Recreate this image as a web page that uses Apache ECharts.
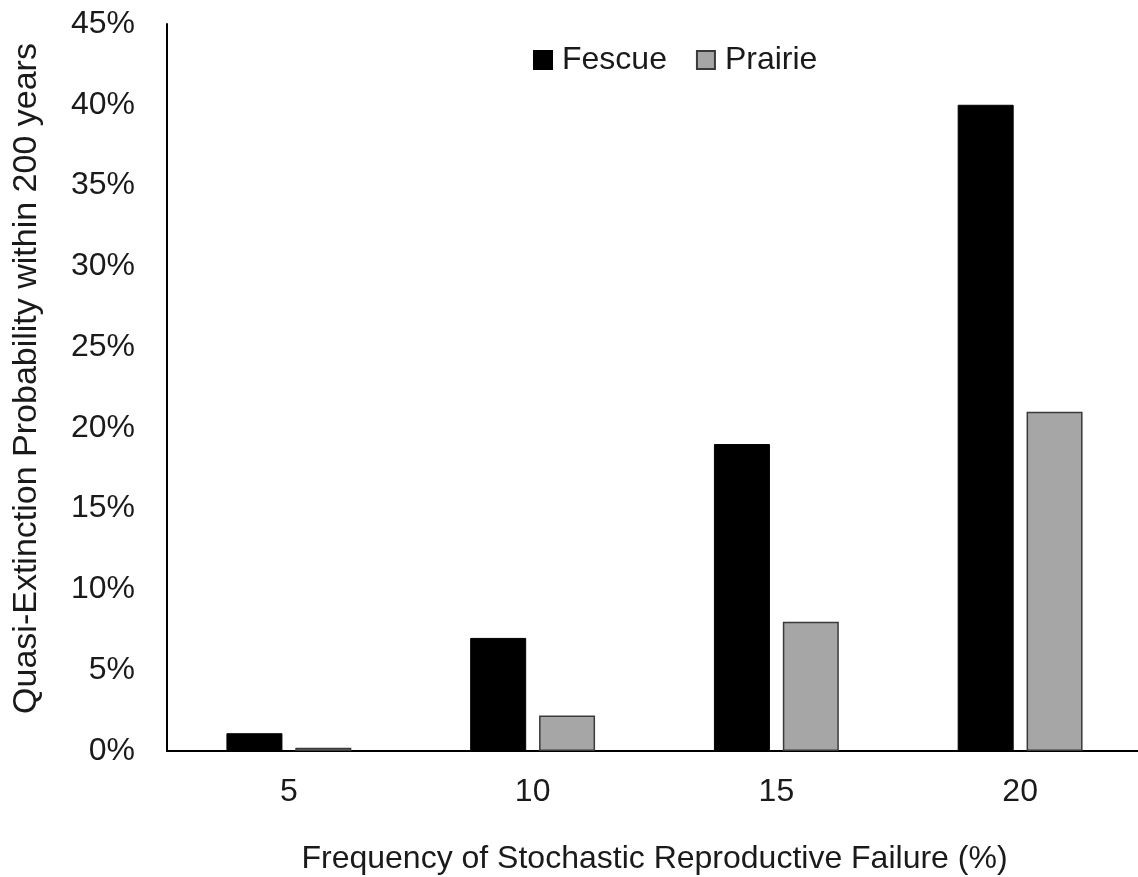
<!DOCTYPE html>
<html>
<head>
<meta charset="utf-8">
<script src="https://cdn.jsdelivr.net/npm/echarts@6/dist/echarts.min.js"></script>
<style>
  html, body { margin: 0; padding: 0; background: #fff; }
  #chart { width: 1138px; height: 877px; }
</style>
</head>
<body>
<div id="chart"></div>
<script>
// Failure frequency (%) on the x axis
const categories = ['5', '10', '15', '20'];
// Quasi-extinction probability within 200 years (%)
const fescue = [1.1, 7.0, 19.0, 40.0];
const prairie = [0.2, 2.2, 8.0, 21.0];
const seriesNames = ['Fescue', 'Prairie'];

const textColor = '#1a1a1a';
const fontFamily = 'Liberation Sans, Arial, sans-serif';

const chart = echarts.init(document.getElementById('chart'));
chart.setOption({
  backgroundColor: '#ffffff',
  animation: false,
  textStyle: { fontFamily: fontFamily, color: textColor },
  legend: {
    data: seriesNames,
    top: 44,
    left: 533,
    padding: 0,
    icon: 'rect',
    itemWidth: 18,
    itemHeight: 18,
    itemGap: 29,
    textStyle: { fontSize: 32, color: textColor, fontFamily: fontFamily, padding: [0, 0, 0, 5] }
  },
  grid: {
    left: 167, right: -4, top: 24, bottom: 126,
    containLabel: false,
    outerBoundsMode: 'none'
  },
  xAxis: {
    type: 'category',
    data: categories,
    name: 'Frequency of Stochastic Reproductive Failure (%)',
    nameLocation: 'middle',
    nameGap: 92,
    nameTextStyle: { fontSize: 32, color: textColor, fontFamily: fontFamily },
    axisLine: { lineStyle: { color: '#000', width: 2 } },
    axisTick: { show: false },
    axisLabel: { fontSize: 32, color: textColor, margin: 25, fontFamily: fontFamily }
  },
  yAxis: {
    type: 'value',
    min: 0,
    max: 45,
    interval: 5,
    name: 'Quasi-Extinction Probability within 200 years',
    nameLocation: 'middle',
    nameGap: 123,
    nameRotate: 90,
    nameTextStyle: {
      fontSize: 34, color: textColor, fontFamily: fontFamily,
      padding: [0, 0, 0, 18]
    },
    axisLine: { show: true, lineStyle: { color: '#000', width: 2 } },
    axisTick: { show: false },
    splitLine: { show: false },
    axisLabel: {
      fontSize: 32,
      color: textColor,
      margin: 32,
      fontFamily: fontFamily,
      formatter: v => v + '%'
    }
  },
  series: [
    {
      name: seriesNames[0],
      type: 'bar',
      data: fescue,
      barWidth: 56,
      barGap: '23%',
      itemStyle: { color: '#000000', borderColor: '#000000', borderWidth: 1 }
    },
    {
      name: seriesNames[1],
      type: 'bar',
      data: prairie,
      barWidth: 56,
      barGap: '23%',
      itemStyle: { color: '#a6a6a6', borderColor: '#3a3a3a', borderWidth: 1.5 }
    }
  ]
});
</script>
</body>
</html>
